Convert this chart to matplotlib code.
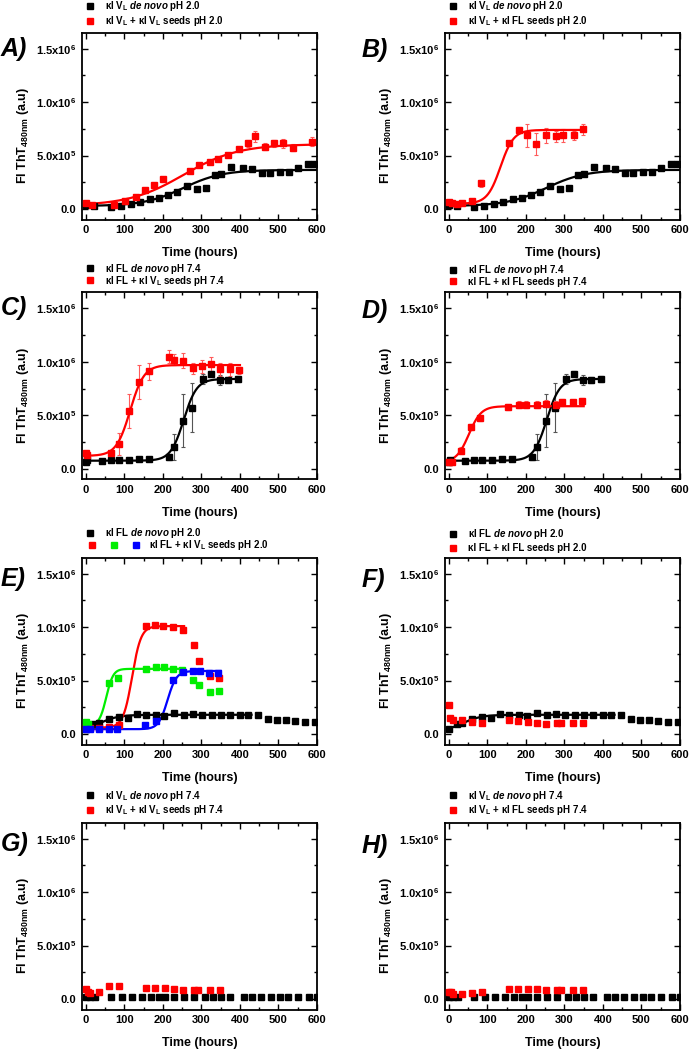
import numpy as np
import matplotlib
matplotlib.use("Agg")
import matplotlib.pyplot as plt
from matplotlib.legend import Legend
from matplotlib.legend_handler import HandlerTuple
from matplotlib.ticker import MultipleLocator, FixedLocator, FixedFormatter

plt.rcParams['font.family'] = ['Liberation Sans', 'DejaVu Sans']
plt.rcParams['font.weight'] = 'bold'
plt.rcParams['mathtext.fontset'] = 'custom'
plt.rcParams['mathtext.rm'] = 'Liberation Sans:bold'
plt.rcParams['mathtext.it'] = 'Liberation Sans:italic:bold'
plt.rcParams['mathtext.bf'] = 'Liberation Sans:bold'
plt.rcParams['mathtext.default'] = 'rm'

# ---- tick labels ----
ytick_vals = [0, 5e5, 1e6, 1.5e6]
ytick_labels = ['0.0', '5.0x10$^{5}$', '1.0x10$^{6}$', '1.5x10$^{6}$']

# ---- data (time in hours, ThT fluorescence in a.u.) ----
# kI VL de novo pH 2.0 (A, B)
vl2_t = [0, 22, 66, 92, 117, 141, 167, 190, 213, 236, 262, 288, 311, 335, 350,
         376, 409, 430, 456, 478, 504, 527, 550, 576, 593]
vl2_y = [3.5e4, 2.8e4, 2.2e4, 2.8e4, 4.3e4, 6.2e4, 9.2e4, 1.04e5, 1.29e5, 1.6e5,
         2.15e5, 1.9e5, 2.0e5, 3.14e5, 3.3e5, 3.9e5, 3.8e5, 3.7e5, 3.4e5, 3.4e5,
         3.5e5, 3.45e5, 3.8e5, 4.2e5, 4.2e5]

# A: kI VL + kI VL seeds pH 2.0
a_red_t = [0, 15, 72, 102, 130, 154, 176, 200, 271, 294, 321, 344, 368, 398, 422,
           439, 464, 489, 513, 539, 586]
a_red_y = [5.8e4, 3.7e4, 4.0e4, 7.4e4, 1.14e5, 1.75e5, 2.28e5, 2.83e5, 3.6e5, 4.1e5,
           4.4e5, 4.7e5, 5.05e5, 5.6e5, 6.15e5, 6.8e5, 5.85e5, 6.15e5, 6.15e5, 5.75e5, 6.3e5]
a_red_e = [2e4, 1e4, 1e4, 1e4, 1e4, 1.5e4, 1.5e4, 1.5e4, 1.5e4, 1.5e4, 1.5e4, 1.5e4,
           1.5e4, 1.5e4, 3e4, 5e4, 3e4, 3e4, 4e4, 3e4, 4e4]

# B: kI VL + kI FL seeds pH 2.0
b_red_t = [0, 9, 20, 35, 61, 83, 156, 182, 204, 227, 252, 278, 295, 324, 347]
b_red_y = [6.5e4, 5.5e4, 4.9e4, 5.5e4, 7.5e4, 2.4e5, 6.2e5, 7.4e5, 6.9e5, 6.1e5,
           6.9e5, 6.8e5, 6.9e5, 6.9e5, 7.45e5]
b_red_e = [2e4, 1.5e4, 1e4, 1e4, 1e4, 3.5e4, 2e4, 2.5e4, 1.1e5, 1e5, 7e4, 5e4, 6e4, 4e4, 5e4]

# kI FL de novo pH 7.4 (C, D)
fl7_t = [0, 3, 43, 66, 86, 112, 137, 163, 216, 228, 253, 275, 303, 326, 347, 369, 395]
fl7_y = [6.5e4, 8.4e4, 7.5e4, 7.7e4, 7.7e4, 7.7e4, 9.5e4, 9.5e4, 1.1e5, 2.05e5, 4.5e5,
         5.7e5, 8.4e5, 8.9e5, 8.3e5, 8.3e5, 8.4e5]
fl7_e = [1e4, 1e4, 1e4, 1e4, 1e4, 1e4, 1e4, 1e4, 3e4, 1.2e5, 2.5e5, 2.3e5, 5e4, 2e4,
         5e4, 3e4, 3e4]

# C: kI FL + kI VL seeds pH 7.4
c_red_t = [0, 3, 66, 86, 111, 137, 163, 216, 230, 252, 277, 301, 325, 348, 373, 398]
c_red_y = [1.45e5, 1.27e5, 1.43e5, 2.3e5, 5.4e5, 8.1e5, 9.1e5, 1.05e6, 1.02e6, 1.01e6,
           9.4e5, 9.6e5, 9.8e5, 9.3e5, 9.3e5, 9.2e5]
c_red_e = [2e4, 2e4, 2e4, 1e5, 1.6e5, 1.6e5, 8e4, 6e4, 5e4, 7e4, 5e4, 6e4, 7e4, 6e4, 6e4, 3e4]

# D: kI FL + kI FL seeds pH 7.4
d_red_t = [0, 9, 31, 57, 80, 154, 182, 201, 228, 252, 277, 293, 321, 346]
d_red_y = [6e4, 6e4, 1.7e5, 3.9e5, 4.7e5, 5.8e5, 6.0e5, 6.0e5, 6.0e5, 6.1e5, 6.0e5,
           6.2e5, 6.2e5, 6.3e5]
d_red_e = [1e4, 1e4, 3e4, 3e4, 2e4, 3e4, 3e4, 3e4, 3e4, 3e4, 3e4, 3e4, 2e4, 3e4]

# kI FL de novo pH 2.0 (E, F)
fl2_t = [0, 20, 35, 59, 85, 109, 132, 157, 182, 204, 230, 254, 278, 302, 327, 352,
         375, 399, 422, 447, 472, 496, 520, 544, 570, 594]
fl2_y = [4.7e4, 9e4, 1.0e5, 1.37e5, 1.6e5, 1.46e5, 1.83e5, 1.77e5, 1.77e5, 1.7e5,
         2.0e5, 1.8e5, 1.86e5, 1.8e5, 1.8e5, 1.8e5, 1.8e5, 1.8e5, 1.8e5, 1.77e5,
         1.37e5, 1.27e5, 1.27e5, 1.24e5, 1.1e5, 1.1e5]

# E: kI FL + kI VL seeds pH 2.0 (three replicates)
e_red_t = [0, 10, 35, 60, 85, 156, 180, 201, 226, 251, 280, 293, 321, 345]
e_red_y = [7e4, 6e4, 6e4, 6.5e4, 8e4, 1.01e6, 1.02e6, 1.01e6, 1.0e6, 9.7e5, 8.3e5,
           6.8e5, 5.4e5, 5.2e5]
e_green_t = [0, 5, 59, 83, 156, 181, 203, 225, 250, 279, 293, 321, 346]
e_green_y = [1.15e5, 9e4, 4.8e5, 5.2e5, 6.1e5, 6.3e5, 6.3e5, 6.1e5, 6.0e5, 5.1e5,
             4.56e5, 3.9e5, 4.0e5]
e_blue_t = [0, 10, 33, 59, 80, 154, 181, 227, 251, 278, 296, 320, 343]
e_blue_y = [4.5e4, 5e4, 5e4, 5e4, 5e4, 8.4e4, 1.24e5, 5.1e5, 5.8e5, 5.9e5, 5.9e5,
            5.7e5, 5.7e5]

# F: kI FL + kI FL seeds pH 2.0
f_red_t = [0, 3, 10, 35, 60, 85, 155, 180, 205, 228, 252, 280, 292, 322, 347]
f_red_y = [2.7e5, 1.5e5, 1.35e5, 1.3e5, 1.15e5, 1.05e5, 1.3e5, 1.2e5, 1.15e5, 1.0e5,
           9.5e4, 1.0e5, 1.05e5, 1.0e5, 1.05e5]

# kI VL de novo pH 7.4 (G, H)
vl7_t = [0, 10, 25, 65, 95, 120, 145, 170, 190, 205, 230, 255, 280, 310, 330, 350,
         375, 410, 430, 455, 480, 505, 525, 550, 580, 600]
vl7_y = [1.5e4] * 26

# G: kI VL + kI VL seeds pH 7.4
g_red_t = [0, 5, 10, 35, 60, 85, 155, 180, 205, 228, 252, 280, 292, 322, 347]
g_red_y = [9e4, 7e4, 5.5e4, 6.5e4, 1.2e5, 1.25e5, 1.05e5, 1.05e5, 1.0e5, 9.5e4,
           8.5e4, 8.5e4, 8.5e4, 8e4, 8e4]

# H: kI VL + kI FL seeds pH 7.4
h_red_t = [0, 5, 10, 35, 60, 85, 155, 180, 205, 228, 252, 280, 292, 322, 347]
h_red_y = [7e4, 6.5e4, 5e4, 5e4, 5.5e4, 6.5e4, 9e4, 9.5e4, 9.5e4, 9e4, 8.5e4,
           8.5e4, 8.5e4, 8.5e4, 8.5e4]

# Boltzmann fits: [A1, A2, x0, dx, t_end]
fit_vl2 = [2.8e4, 3.66e5, 253, 51, 600]
fit_a_red = [3.0e4, 6.07e5, 253, 71, 600]
fit_b_red = [5.0e4, 7.4e5, 134, 17, 350]
fit_fl7 = [7.5e4, 8.4e5, 254, 17, 400]
fit_c_red = [1.2e5, 9.7e5, 115, 18, 400]
fit_d_red = [6.0e4, 5.85e5, 52, 16, 350]
fit_fl2 = [2.0e4, 1.8e5, 35, 25, 430]
fit_e_red = [6.0e4, 1.01e6, 120, 11.6, 255]
fit_e_green = [8.0e4, 6.1e5, 53, 9, 255]
fit_e_blue = [4.5e4, 5.9e5, 212, 11.6, 350]

RED, GREEN, BLUE, BLACK = '#ff0000', '#00ee00', '#0000ff', '#000000'

W, H = 691, 1050
fig = plt.figure(figsize=(W / 100, H / 100), dpi=100)


def make_axes(left_px, bottom_px):
    ax = fig.add_axes([left_px / W, 1 - bottom_px / H, 235 / W, 187 / H])
    ax.set_xlim(-10, 600)
    ax.set_ylim(-1e5, 1.65e6)
    ax.xaxis.set_major_locator(MultipleLocator(100))
    ax.xaxis.set_minor_locator(MultipleLocator(50))
    ax.yaxis.set_major_locator(FixedLocator(ytick_vals))
    ax.yaxis.set_major_formatter(FixedFormatter(ytick_labels))
    ax.yaxis.set_minor_locator(MultipleLocator(2.5e5))
    ax.tick_params(which='both', direction='in', top=True, right=True, width=1.0,
                   labelsize=8, pad=4)
    ax.tick_params(which='major', length=4)
    ax.tick_params(which='minor', length=2)
    for s in ax.spines.values():
        s.set_linewidth(1.3)
    ax.set_xlabel('Time (hours)', fontsize=9, fontweight='bold')
    ax.xaxis.set_label_coords(0.5, -0.145)
    ax.set_ylabel(r'Fl ThT$_{\mathregular{480nm}}$ (a.u)', fontsize=9, fontweight='bold')
    ax.yaxis.set_label_coords(-0.215, 0.45)
    return ax


def series(ax, t, y, color, err=None, ecolor=None):
    if err is not None:
        ax.errorbar(t, y, yerr=err, fmt='none', ecolor=ecolor, elinewidth=0.8,
                    capsize=1.5, capthick=0.8, zorder=2)
    h, = ax.plot(t, y, 's', color=color, ms=4.8, mec=color, ls='none', zorder=3)
    return h


def fit(ax, p, color):
    a1, a2, x0, dx, t_end = p
    t = np.linspace(0, t_end, 400)
    ax.plot(t, a2 + (a1 - a2) / (1 + np.exp((t - x0) / dx)), color=color, lw=1.6, zorder=2.5)


def legend_row(ax, handle, label, x_px, y_px, hl=1.0, pad=1.05):
    leg = Legend(ax, [handle], [label], loc='center left',
                 bbox_to_anchor=(x_px / W, 1 - y_px / H), bbox_transform=fig.transFigure,
                 frameon=False, fontsize=7, handlelength=hl, handletextpad=pad,
                 borderpad=0, borderaxespad=0, numpoints=1,
                 handler_map={tuple: HandlerTuple(ndivide=None, pad=0)})
    ax.add_artist(leg)


def letter(x_px, y_px, s):
    fig.text(x_px / W, 1 - y_px / H, s, fontsize=18, fontweight='bold', style='italic',
             ha='left', va='center')


VL = r'V$_{\mathrm{L}}$'
DN = r'$\mathit{de\ novo}$'

# ---- A ----
ax = make_axes(82, 219.7)
hk = series(ax, vl2_t, vl2_y, BLACK)
hr = series(ax, a_red_t, a_red_y, RED, a_red_e, '#ff5a5a')
fit(ax, fit_vl2, BLACK)
fit(ax, fit_a_red, RED)
legend_row(ax, hk, 'κI ' + VL + ' ' + DN + ' pH 2.0', 85, 6.2)
legend_row(ax, hr, 'κI ' + VL + ' + κI ' + VL + ' seeds pH 2.0', 85, 21)
letter(1, 49, 'A)')

# ---- B ----
ax = make_axes(445, 219.7)
hk = series(ax, vl2_t, vl2_y, BLACK)
hr = series(ax, b_red_t, b_red_y, RED, b_red_e, '#ff5a5a')
fit(ax, fit_vl2, BLACK)
fit(ax, fit_b_red, RED)
legend_row(ax, hk, 'κI ' + VL + ' ' + DN + ' pH 2.0', 448, 6.2)
legend_row(ax, hr, 'κI ' + VL + ' + κI FL seeds pH 2.0', 448, 21)
letter(362, 50, 'B)')

# ---- C ----
ax = make_axes(82, 479.4)
hk = series(ax, fl7_t, fl7_y, BLACK, fl7_e, '#555555')
hr = series(ax, c_red_t, c_red_y, RED, c_red_e, '#ff5a5a')
fit(ax, fit_fl7, BLACK)
fit(ax, fit_c_red, RED)
legend_row(ax, hk, 'κI FL ' + DN + ' pH 7.4', 85, 268.5)
legend_row(ax, hr, 'κI FL + κI ' + VL + ' seeds pH 7.4', 85, 280.5)
letter(1, 308, 'C)')

# ---- D ----
ax = make_axes(445, 479.4)
hk = series(ax, fl7_t, fl7_y, BLACK, fl7_e, '#555555')
hr = series(ax, d_red_t, d_red_y, RED, d_red_e, '#ff5a5a')
fit(ax, fit_fl7, BLACK)
fit(ax, fit_d_red, RED)
legend_row(ax, hk, 'κI FL ' + DN + ' pH 7.4', 448, 270)
legend_row(ax, hr, 'κI FL + κI FL seeds pH 7.4', 448, 281.7)
letter(362, 311, 'D)')

# ---- E ----
ax = make_axes(82, 744.7)
hk = series(ax, fl2_t, fl2_y, BLACK)
hr = series(ax, e_red_t, e_red_y, RED)
hg = series(ax, e_green_t, e_green_y, GREEN)
hb = series(ax, e_blue_t, e_blue_y, BLUE)
fit(ax, fit_fl2, BLACK)
fit(ax, fit_e_red, RED)
fit(ax, fit_e_green, GREEN)
fit(ax, fit_e_blue, BLUE)
legend_row(ax, hk, 'κI FL ' + DN + ' pH 2.0', 85, 533.3)
legend_row(ax, (hr, hg, hb), 'κI FL + κI ' + VL + ' seeds pH 2.0', 80.4, 545,
           hl=6.9, pad=0.2)
letter(1, 579, 'E)')

# ---- F ----
ax = make_axes(445, 744.7)
hk = series(ax, fl2_t, fl2_y, BLACK)
hr = series(ax, f_red_t, f_red_y, RED)
fit(ax, fit_fl2, BLACK)
legend_row(ax, hk, 'κI FL ' + DN + ' pH 2.0', 448, 534)
legend_row(ax, hr, 'κI FL + κI FL seeds pH 2.0', 448, 548)
letter(362, 580, 'F)')

# ---- G ----
ax = make_axes(82, 1009.7)
hk = series(ax, vl7_t, vl7_y, BLACK)
hr = series(ax, g_red_t, g_red_y, RED)
legend_row(ax, hk, 'κI ' + VL + ' ' + DN + ' pH 7.4', 85, 795.7)
legend_row(ax, hr, 'κI ' + VL + ' + κI ' + VL + ' seeds pH 7.4', 85, 810)
letter(1, 844, 'G)')

# ---- H ----
ax = make_axes(445, 1009.7)
hk = series(ax, vl7_t, vl7_y, BLACK)
hr = series(ax, h_red_t, h_red_y, RED)
legend_row(ax, hk, 'κI ' + VL + ' ' + DN + ' pH 7.4', 448, 795.7)
legend_row(ax, hr, 'κI ' + VL + ' + κI FL seeds pH 7.4', 448, 810)
letter(362, 846, 'H)')

fig.savefig('out.png', dpi=100)
